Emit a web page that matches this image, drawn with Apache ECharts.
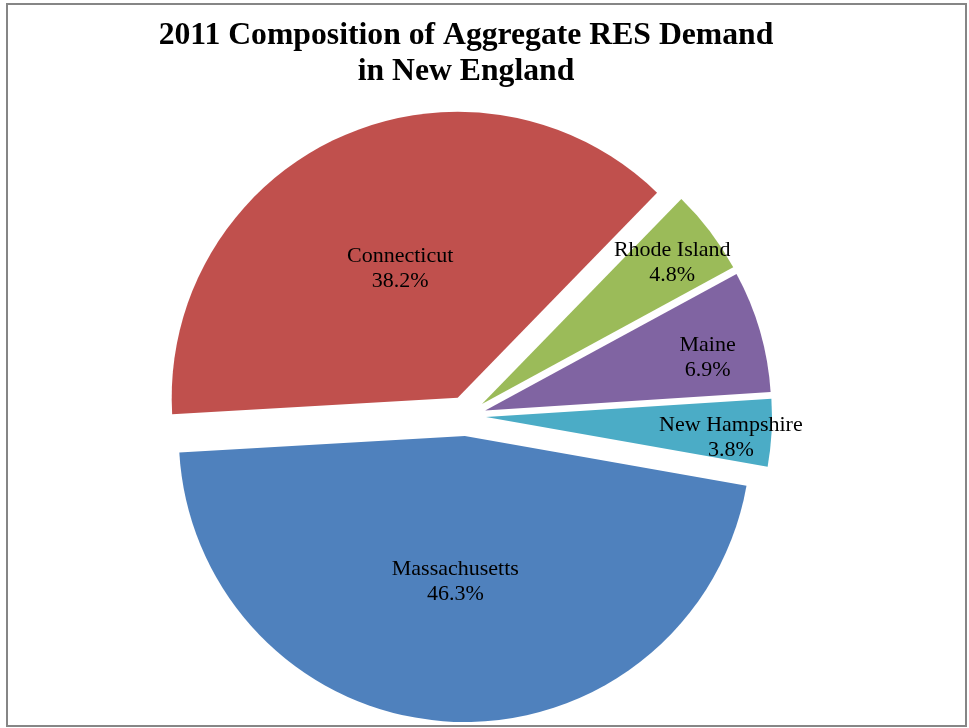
<!DOCTYPE html>
<html>
<head>
<meta charset="utf-8">
<script src="https://cdn.jsdelivr.net/npm/echarts@6/dist/echarts.min.js"></script>
<style>
  html, body { margin: 0; padding: 0; background: #fff; }
  #chart { width: 969px; height: 728px; }
</style>
</head>
<body>
<div id="chart"></div>
<script>
// Share of aggregate RES demand by state, 2011 (percent)
const states = ['Massachusetts', 'Connecticut', 'Rhode Island', 'Maine', 'New Hampshire'];
const shares = [46.3, 38.2, 4.8, 6.9, 3.8];
const sliceColors = ['#4F81BD', '#C0504D', '#9BBB59', '#8064A2', '#4BACC6'];

// Label placement inside each slice: distance from the slice tip
// (fraction of radius) and a small angular nudge in degrees
const labelRadiusFrac = [0.5, 0.485, 0.818, 0.789, 0.849];
const labelAngleShift = [0.4, 0.6, 0.6, 2.7, 1.7];

const R = 286;
const START = 350;      // degrees, counter-clockwise from east
const EXPLODE = 20;

const total = shares.reduce((a, b) => a + b, 0);
// mid angle of each slice, in screen degrees (clockwise from east)
const midAngles = [];
{
  let acc = 0;
  for (let i = 0; i < shares.length; i++) {
    midAngles.push((360 - START) + (acc + shares[i] / 2) / total * 360);
    acc += shares[i];
  }
}
const rad = d => d * Math.PI / 180;

const chart = echarts.init(document.getElementById('chart'), null, { renderer: 'canvas' });

chart.setOption({
  animation: false,
  backgroundColor: '#ffffff',
  title: {
    text: '2011 Composition of Aggregate RES Demand\nin New England',
    left: 461,
    textAlign: 'center',
    top: 13,
    textStyle: {
      fontFamily: 'Liberation Serif',
      fontWeight: 'bold',
      fontSize: 31.7,
      lineHeight: 36,
      color: '#000'
    }
  },
  graphic: [{
    type: 'rect',
    shape: { x: 7, y: 4, width: 959, height: 722 },
    style: { fill: 'none', stroke: '#868686', lineWidth: 2 },
    silent: true
  }],
  series: [{
    type: 'pie',
    center: [466, 416],
    radius: [0, R],
    startAngle: START,
    clockwise: true,
    selectedMode: 'multiple',
    selectedOffset: EXPLODE,
    avoidLabelOverlap: false,
    silent: true,
    label: {
      show: true,
      position: 'inside',
      formatter: p => p.name + '\n' + p.value.toFixed(1) + '%',
      fontFamily: 'Liberation Serif',
      fontSize: 22,
      lineHeight: 25,
      color: '#000'
    },
    labelLine: { show: false },
    labelLayout: params => {
      const i = params.dataIndex;
      const a0 = rad(midAngles[i]);
      const a1 = rad(midAngles[i] + labelAngleShift[i]);
      const r1 = labelRadiusFrac[i] * R;
      const r0 = 0.5 * R;
      return {
        dx: Math.cos(a1) * r1 - Math.cos(a0) * r0,
        dy: Math.sin(a1) * r1 - Math.sin(a0) * r0
      };
    },
    emphasis: { disabled: true },
    data: states.map((s, i) => ({
      name: s,
      value: shares[i],
      selected: true,
      itemStyle: { color: sliceColors[i] }
    }))
  }]
});
</script>
</body>
</html>
